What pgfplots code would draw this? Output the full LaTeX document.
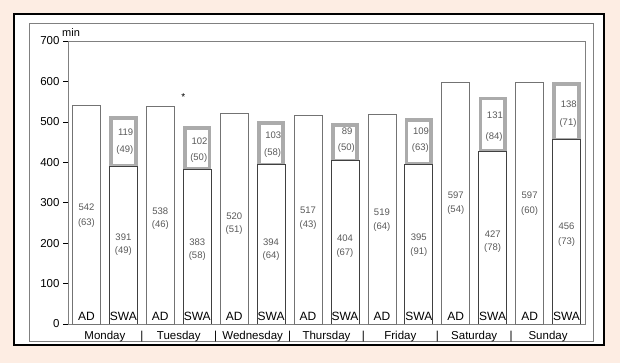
\documentclass[border=0pt]{standalone}
\usepackage{pgfplots}
\pgfplotsset{compat=1.18}
\usepackage{fontspec}
\setmainfont{Liberation Sans}
\definecolor{bgpeach}{HTML}{FDEDE3}
\definecolor{segray}{HTML}{ABABAB}
\definecolor{lblgray}{HTML}{5A5A5A}
\pgfplotsset{
  common/.style={
    at={(68pt,39pt)}, anchor=south west, scale only axis,
    width=517pt, height=283pt,
    xmin=-0.5, xmax=13.5, ymin=0, ymax=700,
  }
}
\begin{document}
\begin{tikzpicture}[x=1pt,y=1pt]
\fill[bgpeach] (0,0) rectangle (620,363);
\fill[white] (14,18) rectangle (604,349);
\draw[black, line width=1.3pt] (14,18) rectangle (604,349);
\draw[gray, line width=0.8pt] (29,22) rectangle (593,340);

% SWA stacked bars
\begin{axis}[common, hide axis, ybar stacked, bar width=28pt]
\addplot[fill=white, draw=black!75, line width=0.7pt] coordinates {(1,391) (3,383) (5,394) (7,404) (9,395) (11,427) (13,456)};
\addplot[fill=white, draw=segray, line width=3.8pt, bar width=24.5pt] coordinates {(1,119) (3,102) (5,103) (7,89) (9,109) (11,131) (13,138)};
\end{axis}

% AD bars, labels, axis
\begin{axis}[common,
  axis line style={gray},
  /pgf/number format/assume math mode=true,
  ytick={0,100,...,700},
  ytick pos=left,
  tick align=outside,
  major tick length=5pt,
  ytick style={black, line width=0.6pt},
  xtick={0.5,2.5,4.5,6.5,8.5,10.5,12.5},
  xticklabels={Monday,Tuesday,Wednesday,Thursday,Friday,Saturday,Sunday},
  xtick style={draw=none},
  extra x ticks={1.5,3.5,5.5,7.5,9.5,11.5},
  extra x tick labels={|,|,|,|,|,|},
  extra x tick style={xtick style={draw=none}},
  tick label style={font=\fontsize{11.5}{13}\selectfont},
  xticklabel style={yshift=1pt},
  clip=false,
]
\addplot[ybar, bar width=28pt, bar shift=0pt, fill=white, draw=black!55, line width=0.7pt] coordinates {(0,542) (2,538) (4,520) (6,517) (8,519) (10,597) (12,597)};

% value labels
\addplot[draw=none, mark=none, point meta=explicit, nodes near coords,
  nodes near coords style={anchor=center, inner sep=0pt, font=\fontsize{9.5}{10}\selectfont, text=lblgray}]
  table[meta=m] {
x y m
0 289 542
2 280 538
4 267 520
6 282 517
8 277 519
10 319 597
12 319 597
1 215 391
3 203 383
5 203 394
7 213 404
9 215 395
11 223 427
13 242 456
1.06 475 119
3.06 453 102
5.06 467 103
7.06 477 89
9.06 477 109
11.06 517 131
13.06 544 138
};
% SD labels
\addplot[draw=none, mark=none, point meta=explicit,
  nodes near coords={(\pgfmathprintnumber{\pgfplotspointmeta})},
  nodes near coords style={anchor=center, inner sep=0pt, font=\fontsize{9.5}{10}\selectfont, text=lblgray}]
  table[meta=m] {
x y m
0 250 63
2 245 46
4 232 51
6 245 43
8 240 64
10 282 54
12 279 60
1 181 49
3 168 58
5 168 64
7 176 67
9 178 91
11 188 78
13 203 73
1.04 430 49
3.04 411 50
5.04 423 58
7.04 435 50
9.04 435 63
11.04 463 84
13.04 497 71
};
% AD / SWA labels
\addplot[draw=none, mark=none, point meta=explicit symbolic, nodes near coords,
  nodes near coords style={anchor=center, inner sep=0pt, font=\fontsize{12}{13}\selectfont, text=black}]
  coordinates {(0,20) [AD] (1,20) [SWA] (2,20) [AD] (3,20) [SWA] (4,20) [AD] (5,20) [SWA] (6,20) [AD] (7,20) [SWA] (8,20) [AD] (9,20) [SWA] (10,20) [AD] (11,20) [SWA] (12,20) [AD] (13,20) [SWA]};
% asterisk
\addplot[draw=none, mark=none, point meta=explicit symbolic, nodes near coords,
  nodes near coords style={anchor=center, inner sep=0pt, font=\fontsize{10}{11}\selectfont, text=black}]
  coordinates {(2.62,562) [*]};
\node[anchor=base west, inner sep=0pt, font=\fontsize{11}{12}\selectfont, xshift=-6pt, yshift=4pt] at (rel axis cs:0,1) {min};
\end{axis}
\end{tikzpicture}
\end{document}
